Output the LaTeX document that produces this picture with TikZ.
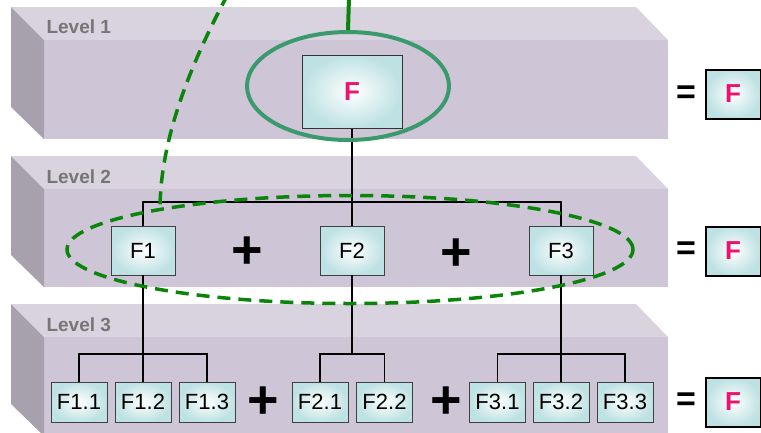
\documentclass[tikz,border=0pt]{standalone}
\usepackage{fontspec}
\setmainfont{Liberation Sans}
\usetikzlibrary{shapes.geometric}
\definecolor{slabtop}{RGB}{217,210,223}
\definecolor{slabfront}{RGB}{206,197,215}
\definecolor{slabside}{RGB}{167,160,173}
\definecolor{boxedge}{RGB}{190,225,227}
\definecolor{fpink}{RGB}{240,16,110}
\definecolor{lvlgray}{RGB}{118,118,118}
\definecolor{ringgreen}{RGB}{58,154,110}
\definecolor{dashgreen}{RGB}{10,133,10}
\tikzset{
  fbox/.style={draw=black!75, line width=0.9pt, inner color=white, outer color=boxedge, minimum width=64pt, minimum height=49pt, inner sep=0pt, font=\fontsize{22}{24}\selectfont},
  sbox/.style={fbox, minimum width=56pt, minimum height=40pt},
  rbox/.style={draw=black, line width=2pt, inner color=white, outer color=boxedge, minimum width=55pt, minimum height=49pt, inner sep=0pt, font=\fontsize{26}{28}\bfseries\selectfont, text=fpink},
  bigbox/.style={rbox, line width=1pt, draw=black!80, minimum width=100pt, minimum height=73pt},
  lvl/.style={anchor=west, text=lvlgray, font=\fontsize{19}{21}\bfseries\selectfont},
  plus/.style={font=\fontsize{54}{54}\bfseries\selectfont, inner sep=0pt},
  eqs/.style={font=\fontsize{34}{34}\bfseries\selectfont, inner sep=0pt},
  conn/.style={line width=1.8pt, black},
}
\begin{document}
\begin{tikzpicture}[x=1pt,y=-1pt]
\useasboundingbox (0,0) rectangle (761,432);
\clip (0,0) rectangle (761,432);
% slabs
\foreach \t/\b in {7/139, 156/287, 304/436}{
  \pgfmathsetmacro{\ft}{\t+33}
  \pgfmathsetmacro{\sb}{\b-32}
  \fill[slabtop] (11,\t) -- (636,\t) -- (668,\ft) -- (44,\ft) -- cycle;
  \fill[slabfront] (44,\ft) rectangle (668,\b);
  \fill[slabside] (11,\t) -- (44,\ft) -- (44,\b) -- (11,\sb) -- cycle;
}
\node[lvl] (l1) at (43,27) {Level 1};
\node[lvl] (l2) at (43,177) {Level 2};
\node[lvl] (l3) at (43,325) {Level 3};
% nodes
\node[bigbox] (F) at (352,91.5) {F};
\node[fbox] (F1) at (143,250.5) {F1};
\node[fbox] (F2) at (352,250.5) {F2};
\node[fbox] (F3) at (561,250.5) {F3};
\node[sbox] (F11) at (79,402) {F1.1};
\node[sbox] (F12) at (143,402) {F1.2};
\node[sbox] (F13) at (207,402) {F1.3};
\node[sbox] (F21) at (320,402) {F2.1};
\node[sbox] (F22) at (384.5,402) {F2.2};
\node[sbox] (F31) at (497.5,402) {F3.1};
\node[sbox] (F32) at (561,402) {F3.2};
\node[sbox] (F33) at (625,402) {F3.3};
\node[rbox] (R1) at (733,94) {F};
\node[rbox] (R2) at (733,251) {F};
\node[rbox] (R3) at (733,402) {F};
\node[eqs] (e1) at (686,95) {=};
\node[eqs] (e2) at (686,251) {=};
\node[eqs] (e3) at (686,402) {=};
\node[plus] (p1) at (247,253) {+};
\node[plus] (p2) at (456,255) {+};
\node[plus] (p3) at (263,403) {+};
\node[plus] (p4) at (446,403) {+};
% connectors
\draw[conn] (F.south) -- (352,202) coordinate (b2);
\draw[conn] (F1.north) |- (b2) -| (F3.north);
\draw[conn] (b2) -- (F2.north);
\draw[conn] (F1.south) -- (143,354) coordinate (b31);
\draw[conn] (F11.north) |- (b31) -| (F13.north);
\draw[conn] (b31) -- (F12.north);
\draw[conn] (F2.south) -- (352,354) coordinate (b32);
\draw[conn] (F21.north) |- (b32) -| (F22.north);
\draw[conn] (F3.south) -- (561,354) coordinate (b33);
\draw[conn] (F31.north) |- (b33) -| (F33.north);
\draw[conn] (b33) -- (F32.north);
% rings
\node[draw=ringgreen, line width=4pt, ellipse, minimum width=202pt, minimum height=108pt, inner sep=0pt] (ring1) at (348,86) {};
\node[draw=dashgreen, line width=3.5pt, dash pattern=on 13pt off 8pt, ellipse, minimum width=566pt, minimum height=108pt, inner sep=0pt] (ring2) at (350,249.5) {};
\coordinate (top1) at (349,-2);
\draw[dashgreen, line width=4pt] (ring1.north) -- (top1);
\coordinate (top2) at (228,-6);
\coordinate (end2) at (160,210);
\draw[dashgreen, line width=3.5pt, dash pattern=on 13pt off 8pt] (top2) .. controls (190,65) and (160,140) .. (end2);
\end{tikzpicture}
\end{document}
